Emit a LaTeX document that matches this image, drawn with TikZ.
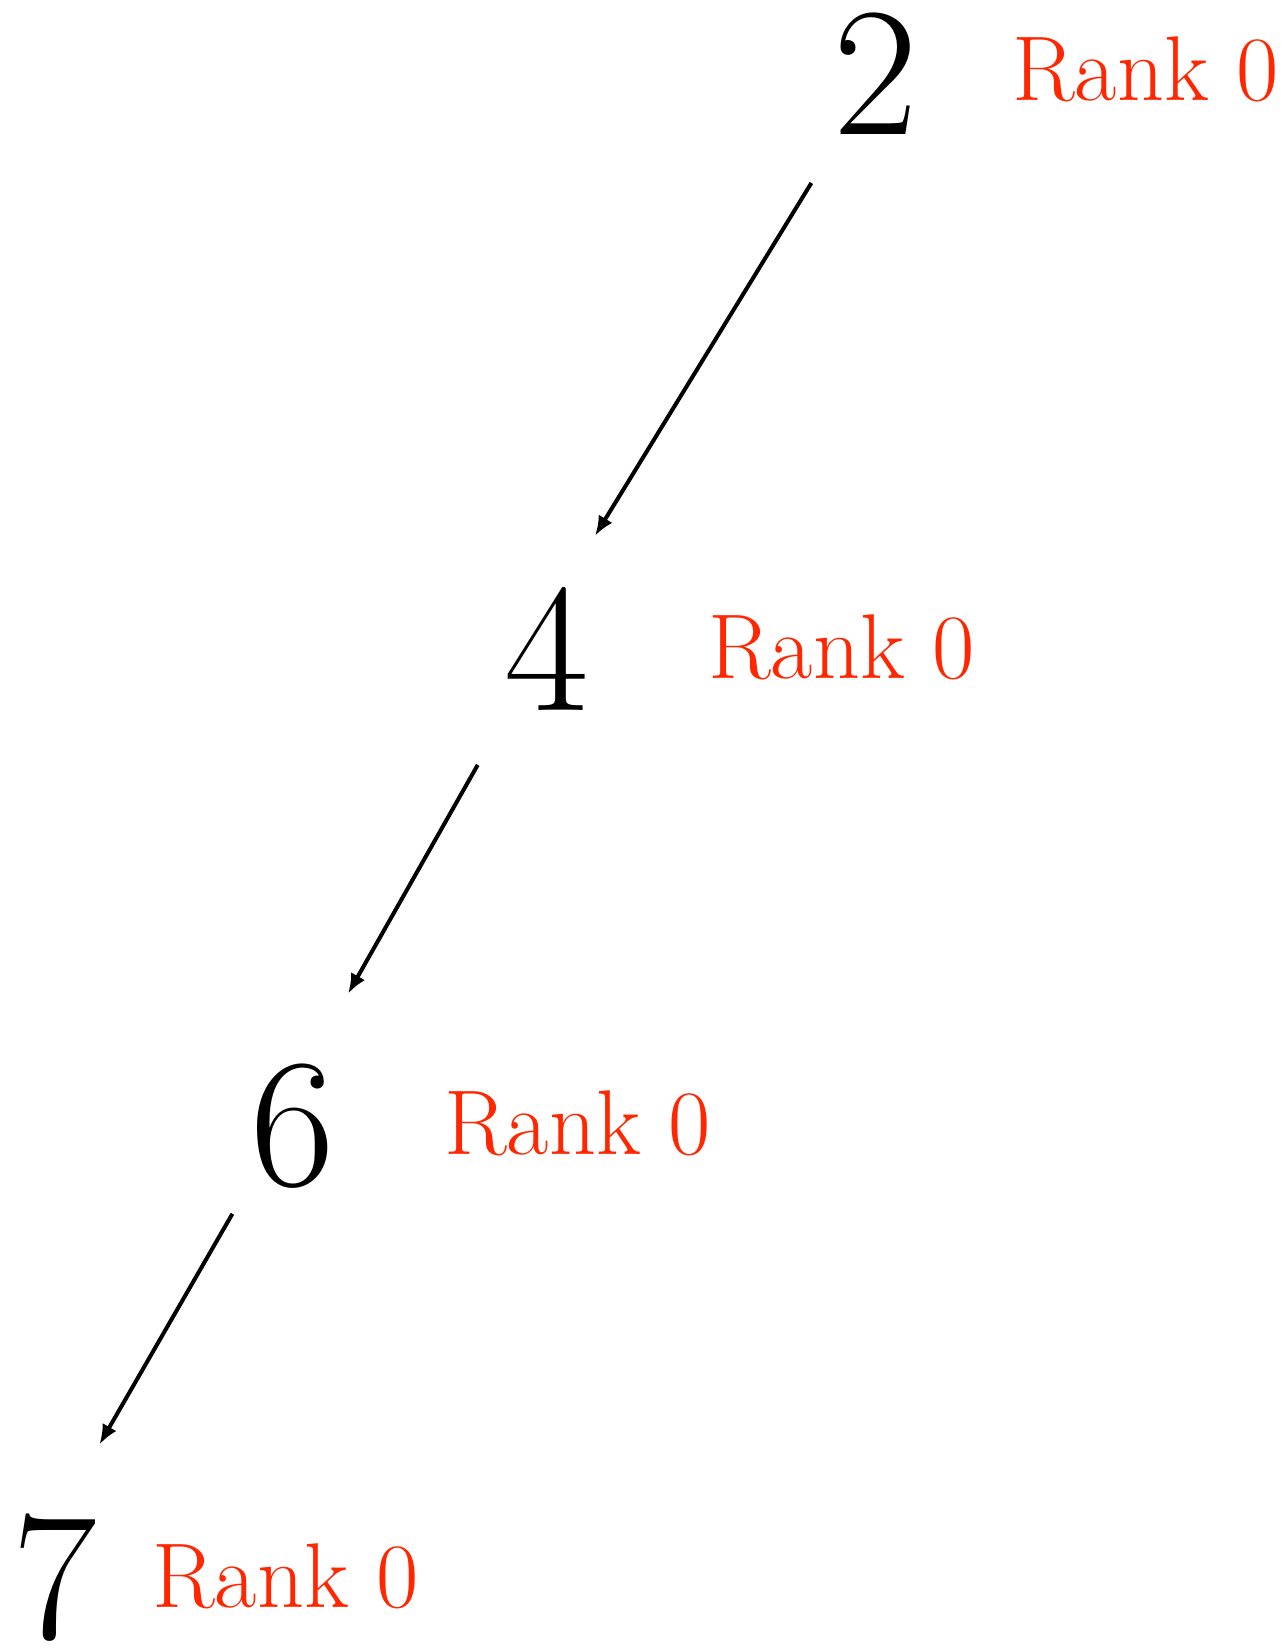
\documentclass[tikz,border=0pt]{standalone}
\usepackage{fontspec}
\usepackage{tikz}
\usetikzlibrary{arrows.meta}
\definecolor{rankred}{RGB}{255,38,0}
\tikzset{
  num/.style   ={inner sep=0pt,font=\fontsize{92}{92}\selectfont},
  rank/.style  ={inner sep=0pt,anchor=base west,text=rankred,
                 font=\fontsize{46}{46}\selectfont},
  edge/.style  ={-{Latex[length=10pt,width=8pt]},draw=black,line width=2pt},
}
\begin{document}
\begin{tikzpicture}[x=0.5pt, y=-0.5pt]
\useasboundingbox (0,0) rectangle (1285,1649);

%% ---------------- keys ----------------
\node[num] (n2) at (876,  74) {2};
\node[num] (n4) at (547, 649) {4};
\node[num] (n6) at (293,1126) {6};
\node[num] (n7) at ( 55,1578) {7};

%% ---------------- ranks ----------------
\node[rank] (r2) at (1012, 100) {Rank 0};
\node[rank] (r4) at ( 708, 678) {Rank 0};
\node[rank] (r6) at ( 444,1154) {Rank 0};
\node[rank] (r7) at ( 152,1607) {Rank 0};

%% ---------------- edges ----------------
%% anchors and shortening per edge: the arrows sit left of the centre line
\foreach \u/\au/\v/\av/\su/\sv in {n2/240/n4/75/28/30, n4/238/n6/76/31/40, n6/233/n7/86/18/40}{
  \draw[edge, shorten <=\su pt, shorten >=\sv pt] (\u.\au) -- (\v.\av);
}

\end{tikzpicture}
\end{document}
